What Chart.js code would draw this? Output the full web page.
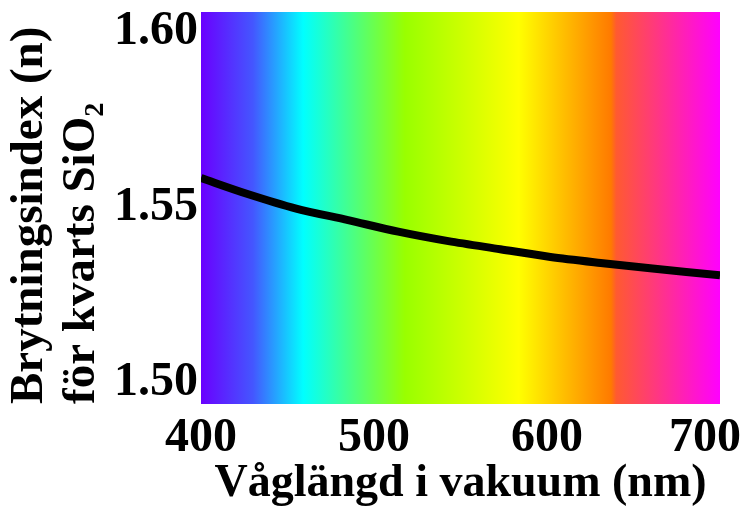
<!DOCTYPE html>
<html>
<head>
<meta charset="utf-8">
<script src="https://cdn.jsdelivr.net/npm/chart.js@4"></script>
<style>
  body { margin: 0; background: #fff; }
  canvas { display: block; }
</style>
</head>
<body>
<canvas id="myChart" width="748" height="511"></canvas>
<script>
// data
var wavelengths = [400, 426, 455, 485, 514, 543, 573, 602, 631, 661, 700];
var refractiveIndex = [1.5584, 1.5540, 1.5497, 1.5464, 1.5431, 1.5404, 1.5381, 1.5359, 1.5342, 1.5326, 1.5307];
var xTickValues = [400, 500, 600, 700];
var yTickValues = [1.50, 1.55, 1.60];

var points = wavelengths.map(function (w, i) { return { x: w, y: refractiveIndex[i] }; });

var serif = '"Liberation Serif", "Times New Roman", serif';

// rainbow behind the plot + keep x labels inside the canvas
var rainbow = {
    id: 'rainbow',
    beforeDraw: function (chart) {
        var a = chart.chartArea;
        var c = chart.ctx;
        var g = c.createLinearGradient(a.left, 0, a.right, 0);
        g.addColorStop(0, '#6a00ff');
        g.addColorStop(0.1, '#4456ff');
        g.addColorStop(0.197, '#00ffff');
        g.addColorStop(0.393, '#99ff00');
        g.addColorStop(0.612, '#ffff00');
        g.addColorStop(0.79, '#ff7a00');
        g.addColorStop(0.80, '#ff5a30');
        g.addColorStop(1, '#ff00ff');
        c.save();
        c.fillStyle = g;
        c.fillRect(a.left, a.top, a.right - a.left, a.bottom - a.top);
        c.restore();

        var xs = chart.scales.x;
        var items = xs.getLabelItems(a);
        items.forEach(function (it) {
            c.save();
            c.font = it.font.string;
            var w = c.measureText(it.label).width;
            c.restore();
            var maxX = chart.width - w / 2 - 7;
            if (it.options.translation[0] > maxX) it.options.translation[0] = maxX;
        });
    }
};

var ctx = document.getElementById('myChart').getContext('2d');
var myChart = new Chart(ctx, {
    type: 'line',
    data: {
        datasets: [{
            data: points,
            borderColor: '#000',
            borderWidth: 8,
            pointRadius: 0,
            fill: false,
            tension: 0.3
        }]
    },
    options: {
        responsive: false,
        animation: false,
        layout: { padding: { top: 12, right: 28, left: 0, bottom: 0 } },
        plugins: {
            legend: { display: false },
            tooltip: { enabled: false }
        },
        scales: {
            x: {
                type: 'linear',
                min: 400,
                max: 700,
                grid: { display: false },
                border: { display: false },
                afterBuildTicks: function (s) {
                    s.ticks = xTickValues.map(function (v) { return { value: v }; });
                },
                afterFit: function (s) {
                    s.height = 107;
                    s.paddingLeft = 0;
                    s.paddingRight = 0;
                },
                ticks: {
                    color: '#000',
                    padding: 3,
                    maxRotation: 0,
                    autoSkip: false,
                    font: { family: serif, size: 48, weight: 'bold', lineHeight: 1 }
                },
                title: {
                    display: true,
                    text: 'Våglängd i vakuum (nm)',
                    color: '#000',
                    padding: { top: 0, bottom: 4 },
                    font: { family: serif, size: 46, weight: 'bold', lineHeight: 1 }
                }
            },
            y: {
                min: 1.4940,
                max: 1.6057,
                grid: { display: false },
                border: { display: false },
                afterBuildTicks: function (s) {
                    s.ticks = yTickValues.map(function (v) { return { value: v }; });
                },
                afterFit: function (s) {
                    s.width = 201;
                    s.paddingTop = 0;
                    s.paddingBottom = 0;
                },
                ticks: {
                    color: '#000',
                    padding: -5,
                    autoSkip: false,
                    callback: function (v) { return v.toFixed(2); },
                    font: { family: serif, size: 48, weight: 'bold', lineHeight: 1 }
                },
                title: {
                    display: true,
                    align: 'start',
                    text: ['Brytningsindex (n)', 'för kvarts SiO₂'],
                    color: '#000',
                    padding: { top: 4, bottom: 0 },
                    font: { family: serif, size: 47, weight: 'bold', lineHeight: 1.1 }
                }
            }
        }
    },
    plugins: [rainbow]
});
</script>
</body>
</html>
